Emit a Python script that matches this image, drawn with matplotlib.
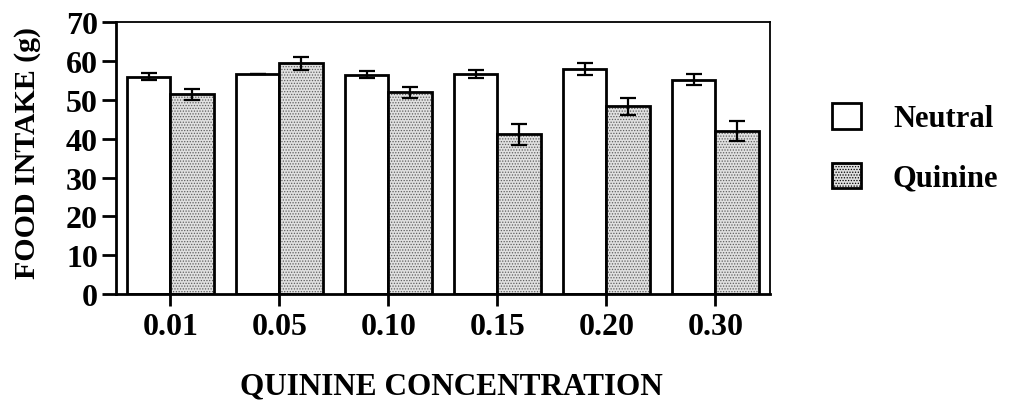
import matplotlib
matplotlib.use("Agg")
import matplotlib.pyplot as plt
from matplotlib.patches import Patch
import numpy as np

# values
concentrations = ["0.01", "0.05", "0.10", "0.15", "0.20", "0.30"]
neutral = [56.0, 56.7, 56.5, 56.6, 58.0, 55.2]
neutral_err = [1.0, 0.0, 1.0, 1.0, 1.6, 1.5]
quinine = [51.4, 59.4, 51.9, 41.2, 48.3, 42.0]
quinine_err = [1.5, 1.7, 1.4, 2.7, 2.1, 2.5]

plt.rcParams['font.family'] = ['Liberation Serif', 'DejaVu Serif']
plt.rcParams['font.weight'] = 'bold'
plt.rcParams['hatch.linewidth'] = 0.6

fig = plt.figure(figsize=(10.13, 4.06), dpi=100)
ax = fig.add_axes([0.1145, 0.273, 0.6455, 0.670])  # llx, lly, w, h

x = np.arange(len(concentrations))
w = 0.4
stip_face = '#e0e0e0'
stip_dots = '#5e5e5e'

ax.bar(x - w/2, neutral, w, color='white', edgecolor='black', linewidth=2, zorder=2)
ax.bar(x + w/2, quinine, w, color=stip_face, edgecolor=stip_dots, hatch='......',
       linewidth=0, zorder=2)
ax.bar(x + w/2, quinine, w, fill=False, edgecolor='black', linewidth=2, zorder=3)

ax.errorbar(x - w/2, neutral, yerr=neutral_err, fmt='none', ecolor='black',
            elinewidth=1.6, capsize=5.5, capthick=1.6, zorder=4)
ax.errorbar(x + w/2, quinine, yerr=quinine_err, fmt='none', ecolor='black',
            elinewidth=1.6, capsize=5.5, capthick=1.6, zorder=4)

ax.set_xlim(-0.5, len(concentrations) - 0.5)
ax.set_ylim(0, 70)
ax.set_yticks(range(0, 71, 10))
ax.set_xticks(x)
ax.set_xticklabels(concentrations)

ax.spines['left'].set_linewidth(2)
ax.spines['bottom'].set_linewidth(2)
ax.spines['top'].set_linewidth(1.3)
ax.spines['right'].set_linewidth(1.3)
ax.tick_params(axis='y', direction='out', length=10, width=2, labelsize=23, pad=3)
ax.tick_params(axis='x', direction='out', length=8.5, width=2, labelsize=23, pad=4)

fig.text(0.0276, 0.623, 'FOOD INTAKE (g)', fontsize=21.5, fontweight='bold',
         rotation=90, ha='center', va='center')
fig.text(0.446, 0.047, 'QUININE CONCENTRATION', fontsize=22.5, fontweight='bold',
         ha='center', va='center')

handles = [
    Patch(facecolor='white', edgecolor='black', linewidth=2, label='Neutral'),
    Patch(facecolor=stip_face, edgecolor='black', linewidth=2, hatch='......', label='Quinine'),
]
fig.legend(handles=handles, loc='center left', bbox_to_anchor=(0.794, 0.633),
           frameon=False, fontsize=22, handlelength=0.95, handleheight=0.9,
           handletextpad=1.05, labelspacing=0.95)

fig.savefig('out.png', dpi=100)
